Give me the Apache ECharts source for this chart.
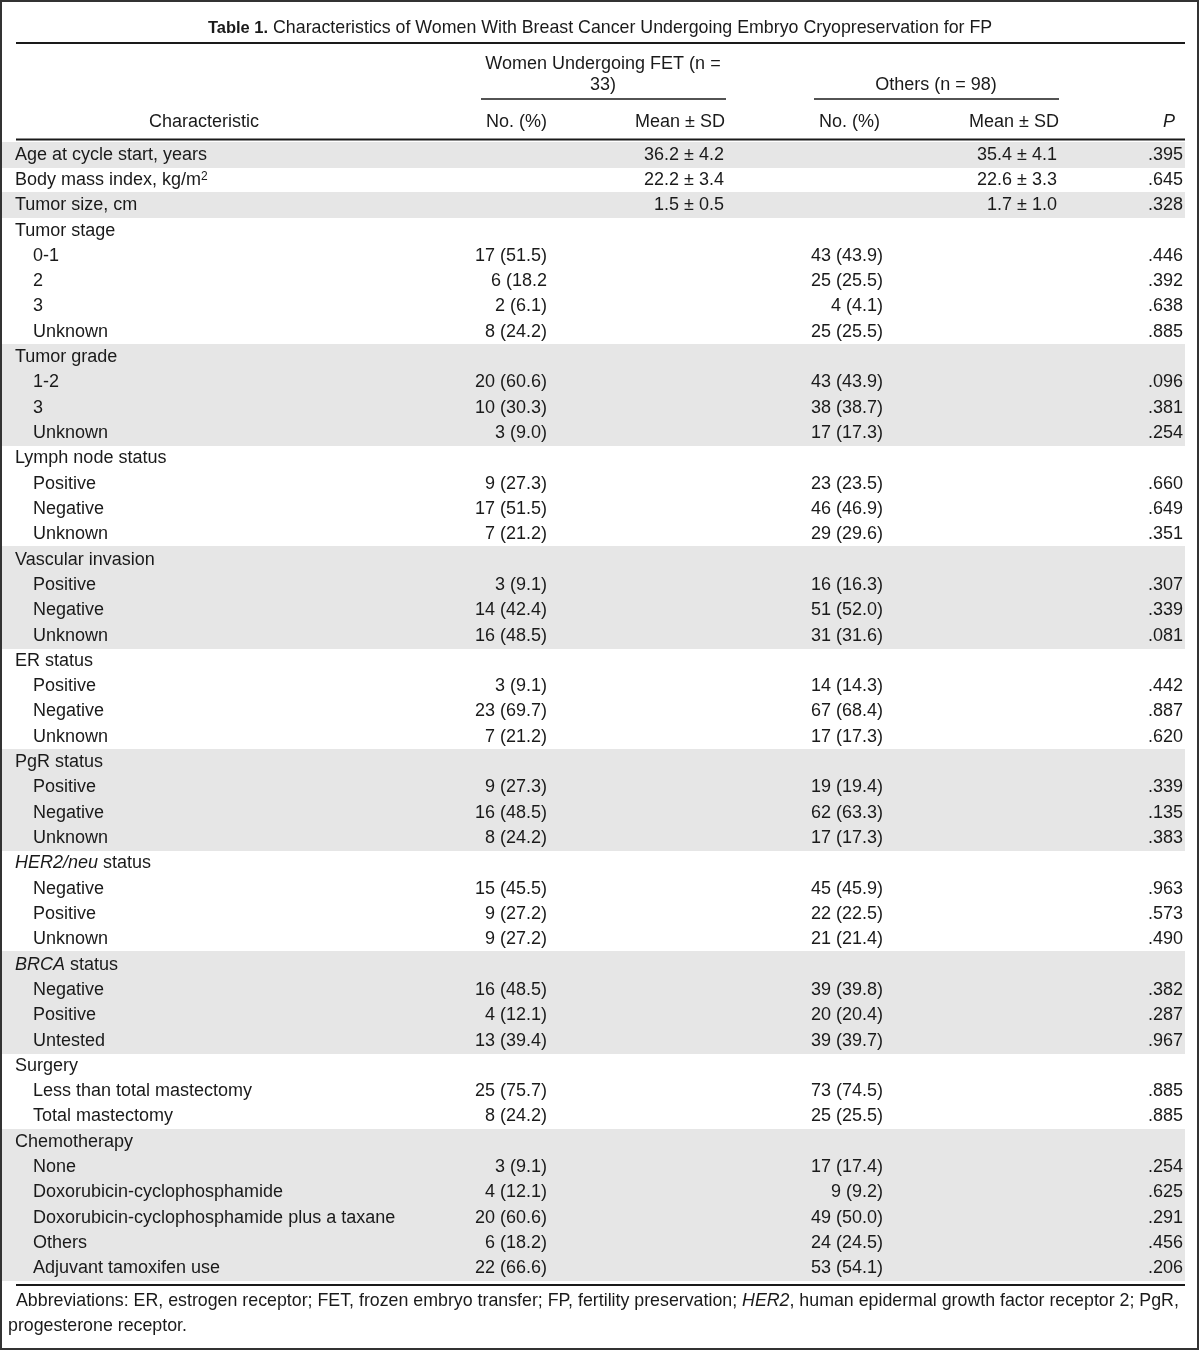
<!DOCTYPE html>
<html><head><meta charset="utf-8">
<script src="https://cdn.jsdelivr.net/npm/echarts@6/dist/echarts.min.js"></script>
<style>html,body{margin:0;padding:0;background:#fff}#c{width:1200px;height:1351px}</style>
</head><body><div id="c"></div><script>
const characteristics = [
  'Age at cycle start, years', 'Body mass index, kg/m{sup|2}', 'Tumor size, cm',
  'Tumor stage', '0-1', '2', '3', 'Unknown',
  'Tumor grade', '1-2', '3', 'Unknown',
  'Lymph node status', 'Positive', 'Negative', 'Unknown',
  'Vascular invasion', 'Positive', 'Negative', 'Unknown',
  'ER status', 'Positive', 'Negative', 'Unknown',
  'PgR status', 'Positive', 'Negative', 'Unknown',
  '{it|HER2/neu} status', 'Negative', 'Positive', 'Unknown',
  '{it|BRCA} status', 'Negative', 'Positive', 'Untested',
  'Surgery', 'Less than total mastectomy', 'Total mastectomy',
  'Chemotherapy', 'None', 'Doxorubicin-cyclophosphamide', 'Doxorubicin-cyclophosphamide plus a taxane', 'Others', 'Adjuvant tamoxifen use'
];
const indentLevel = [0,0,0, 0,1,1,1,1, 0,1,1,1, 0,1,1,1, 0,1,1,1, 0,1,1,1, 0,1,1,1, 0,1,1,1, 0,1,1,1, 0,1,1, 0,1,1,1,1,1];
const fetNo = ['', '', '', '', '17 (51.5)', '6 (18.2', '2 (6.1)', '8 (24.2)', '', '20 (60.6)', '10 (30.3)', '3 (9.0)',
  '', '9 (27.3)', '17 (51.5)', '7 (21.2)', '', '3 (9.1)', '14 (42.4)', '16 (48.5)', '', '3 (9.1)', '23 (69.7)', '7 (21.2)',
  '', '9 (27.3)', '16 (48.5)', '8 (24.2)', '', '15 (45.5)', '9 (27.2)', '9 (27.2)', '', '16 (48.5)', '4 (12.1)', '13 (39.4)',
  '', '25 (75.7)', '8 (24.2)', '', '3 (9.1)', '4 (12.1)', '20 (60.6)', '6 (18.2)', '22 (66.6)'];
const fetMean = ['36.2 ± 4.2', '22.2 ± 3.4', '1.5 ± 0.5'];
const othersNo = ['', '', '', '', '43 (43.9)', '25 (25.5)', '4 (4.1)', '25 (25.5)', '', '43 (43.9)', '38 (38.7)', '17 (17.3)',
  '', '23 (23.5)', '46 (46.9)', '29 (29.6)', '', '16 (16.3)', '51 (52.0)', '31 (31.6)', '', '14 (14.3)', '67 (68.4)', '17 (17.3)',
  '', '19 (19.4)', '62 (63.3)', '17 (17.3)', '', '45 (45.9)', '22 (22.5)', '21 (21.4)', '', '39 (39.8)', '20 (20.4)', '39 (39.7)',
  '', '73 (74.5)', '25 (25.5)', '', '17 (17.4)', '9 (9.2)', '49 (50.0)', '24 (24.5)', '53 (54.1)'];
const othersMean = ['35.4 ± 4.1', '22.6 ± 3.3', '1.7 ± 1.0'];
const pValues = ['.395', '.645', '.328', '', '.446', '.392', '.638', '.885', '', '.096', '.381', '.254',
  '', '.660', '.649', '.351', '', '.307', '.339', '.081', '', '.442', '.887', '.620',
  '', '.339', '.135', '.383', '', '.963', '.573', '.490', '', '.382', '.287', '.967',
  '', '.885', '.885', '', '.254', '.625', '.291', '.456', '.206'];
const titleBold = 'Table 1.';
const titleText = 'Characteristics of Women With Breast Cancer Undergoing Embryo Cryopreservation for FP';
const groupHeaders = ['Women Undergoing FET (n =\n33)', 'Others (n = 98)'];
const columnHeaders = ['Characteristic', 'No. (%)', 'Mean ± SD', 'No. (%)', 'Mean ± SD', 'P'];
const footnote1 = 'Abbreviations: ER, estrogen receptor; FET, frozen embryo transfer; FP, fertility preservation; {it|HER2}, human epidermal growth factor receptor 2; PgR,';
const footnote2 = 'progesterone receptor.';

const FONT = "'Liberation Sans', Arial, Helvetica, sans-serif";
const INK = '#1a1a1a';
const FS = 18;
let g = -1;
const groupIdx = indentLevel.map(l => (l === 0 ? ++g : g));

const rich = {
  it: { fontStyle: 'italic', fontFamily: FONT, fontSize: FS, color: INK },
  itf: { fontStyle: 'italic', fontFamily: FONT, fontSize: 17.8, color: INK },
  sup: { fontFamily: FONT, fontSize: 12, verticalAlign: 'top', lineHeight: 12, padding: [0, 0, 8, 0], color: INK },
  b: { fontWeight: 'bold', fontFamily: FONT, fontSize: 16.5, color: INK }
};

function txt(x, y, text, align, size) {
  return {
    type: 'text', x: x, y: y, silent: true,
    style: { text: text, fill: INK, fontFamily: FONT, fontSize: size || FS, align: align, verticalAlign: 'middle', rich: rich }
  };
}

const chart = echarts.init(document.getElementById('c'), null, { renderer: 'canvas' });

const cols = { label: 15, indent: 33, fetNo: 547, fetMean: 724, othNo: 883, othMean: 1057, p: 1183 };

function renderItem(params, api) {
  const i = params.dataIndex;
  const y = api.coord([0, i])[1];
  const h = api.size([0, 1])[1];
  const X = v => api.coord([v, i])[0];
  const children = [];
  if (groupIdx[i] % 2 === 0) {
    const top = Math.floor(y - h / 2);
    const bot = Math.ceil(y + h / 2);
    children.push({ type: 'rect', shape: { x: X(2), y: top, width: X(1185) - X(2), height: bot - top }, style: { fill: '#e6e6e6' } });
  }
  const mk = (x, t, align) => ({ type: 'text', style: { x: x, y: y, text: t, fill: INK, fontFamily: FONT, fontSize: FS, align: align, verticalAlign: 'middle', rich: rich } });
  children.push(mk(X(indentLevel[i] ? cols.indent : cols.label), characteristics[i], 'left'));
  if (fetNo[i]) children.push(mk(X(cols.fetNo), fetNo[i], 'right'));
  if (fetMean[i]) children.push(mk(X(cols.fetMean), fetMean[i], 'right'));
  if (othersNo[i]) children.push(mk(X(cols.othNo), othersNo[i], 'right'));
  if (othersMean[i]) children.push(mk(X(cols.othMean), othersMean[i], 'right'));
  if (pValues[i]) children.push(mk(X(cols.p), pValues[i], 'right'));
  return { type: 'group', children: children };
}

const line = (x1, y1, x2, y2, w) => ({ type: 'line', silent: true, shape: { x1: x1, y1: y1, x2: x2, y2: y2 }, style: { stroke: INK, lineWidth: w } });

chart.setOption({
  animation: false,
  backgroundColor: '#fff',
  grid: { left: 0, right: 0, top: 142, height: 1139 },
  xAxis: { type: 'value', min: 0, max: 1200, show: false },
  yAxis: { type: 'category', inverse: true, show: false, data: characteristics.map((c, i) => String(i)) },
  series: [{
    type: 'custom', silent: true, clip: false,
    renderItem: renderItem,
    data: characteristics.map((c, i) => [0, i])
  }],
  graphic: [
    { type: 'rect', silent: true, shape: { x: 1, y: 1, width: 1197, height: 1348 }, style: { fill: null, stroke: '#333', lineWidth: 2 }, z: 10 },
    txt(600, 28, '{b|' + titleBold + '} ' + titleText, 'center', 17.8),
    line(16, 43, 1185, 43, 2),
    txt(603, 64, groupHeaders[0].split('\n')[0], 'center'),
    txt(603, 85, groupHeaders[0].split('\n')[1], 'center'),
    txt(936, 85, groupHeaders[1], 'center'),
    line(481, 99, 726, 99, 1.5),
    line(814, 99, 1059, 99, 1.5),
    txt(204, 122, columnHeaders[0], 'center'),
    txt(547, 122, columnHeaders[1], 'right'),
    txt(725, 122, columnHeaders[2], 'right'),
    txt(880, 122, columnHeaders[3], 'right'),
    txt(1059, 122, columnHeaders[4], 'right'),
    txt(1175, 122, '{it|' + columnHeaders[5] + '}', 'right'),
    line(16, 139.5, 1185, 139.5, 2),
    line(16, 1285, 1185, 1285, 2),
    txt(16, 1301, footnote1.replace('{it|', '{itf|'), 'left', 17.8),
    txt(8, 1326, footnote2, 'left', 17.8)
  ]
});
</script></body></html>
